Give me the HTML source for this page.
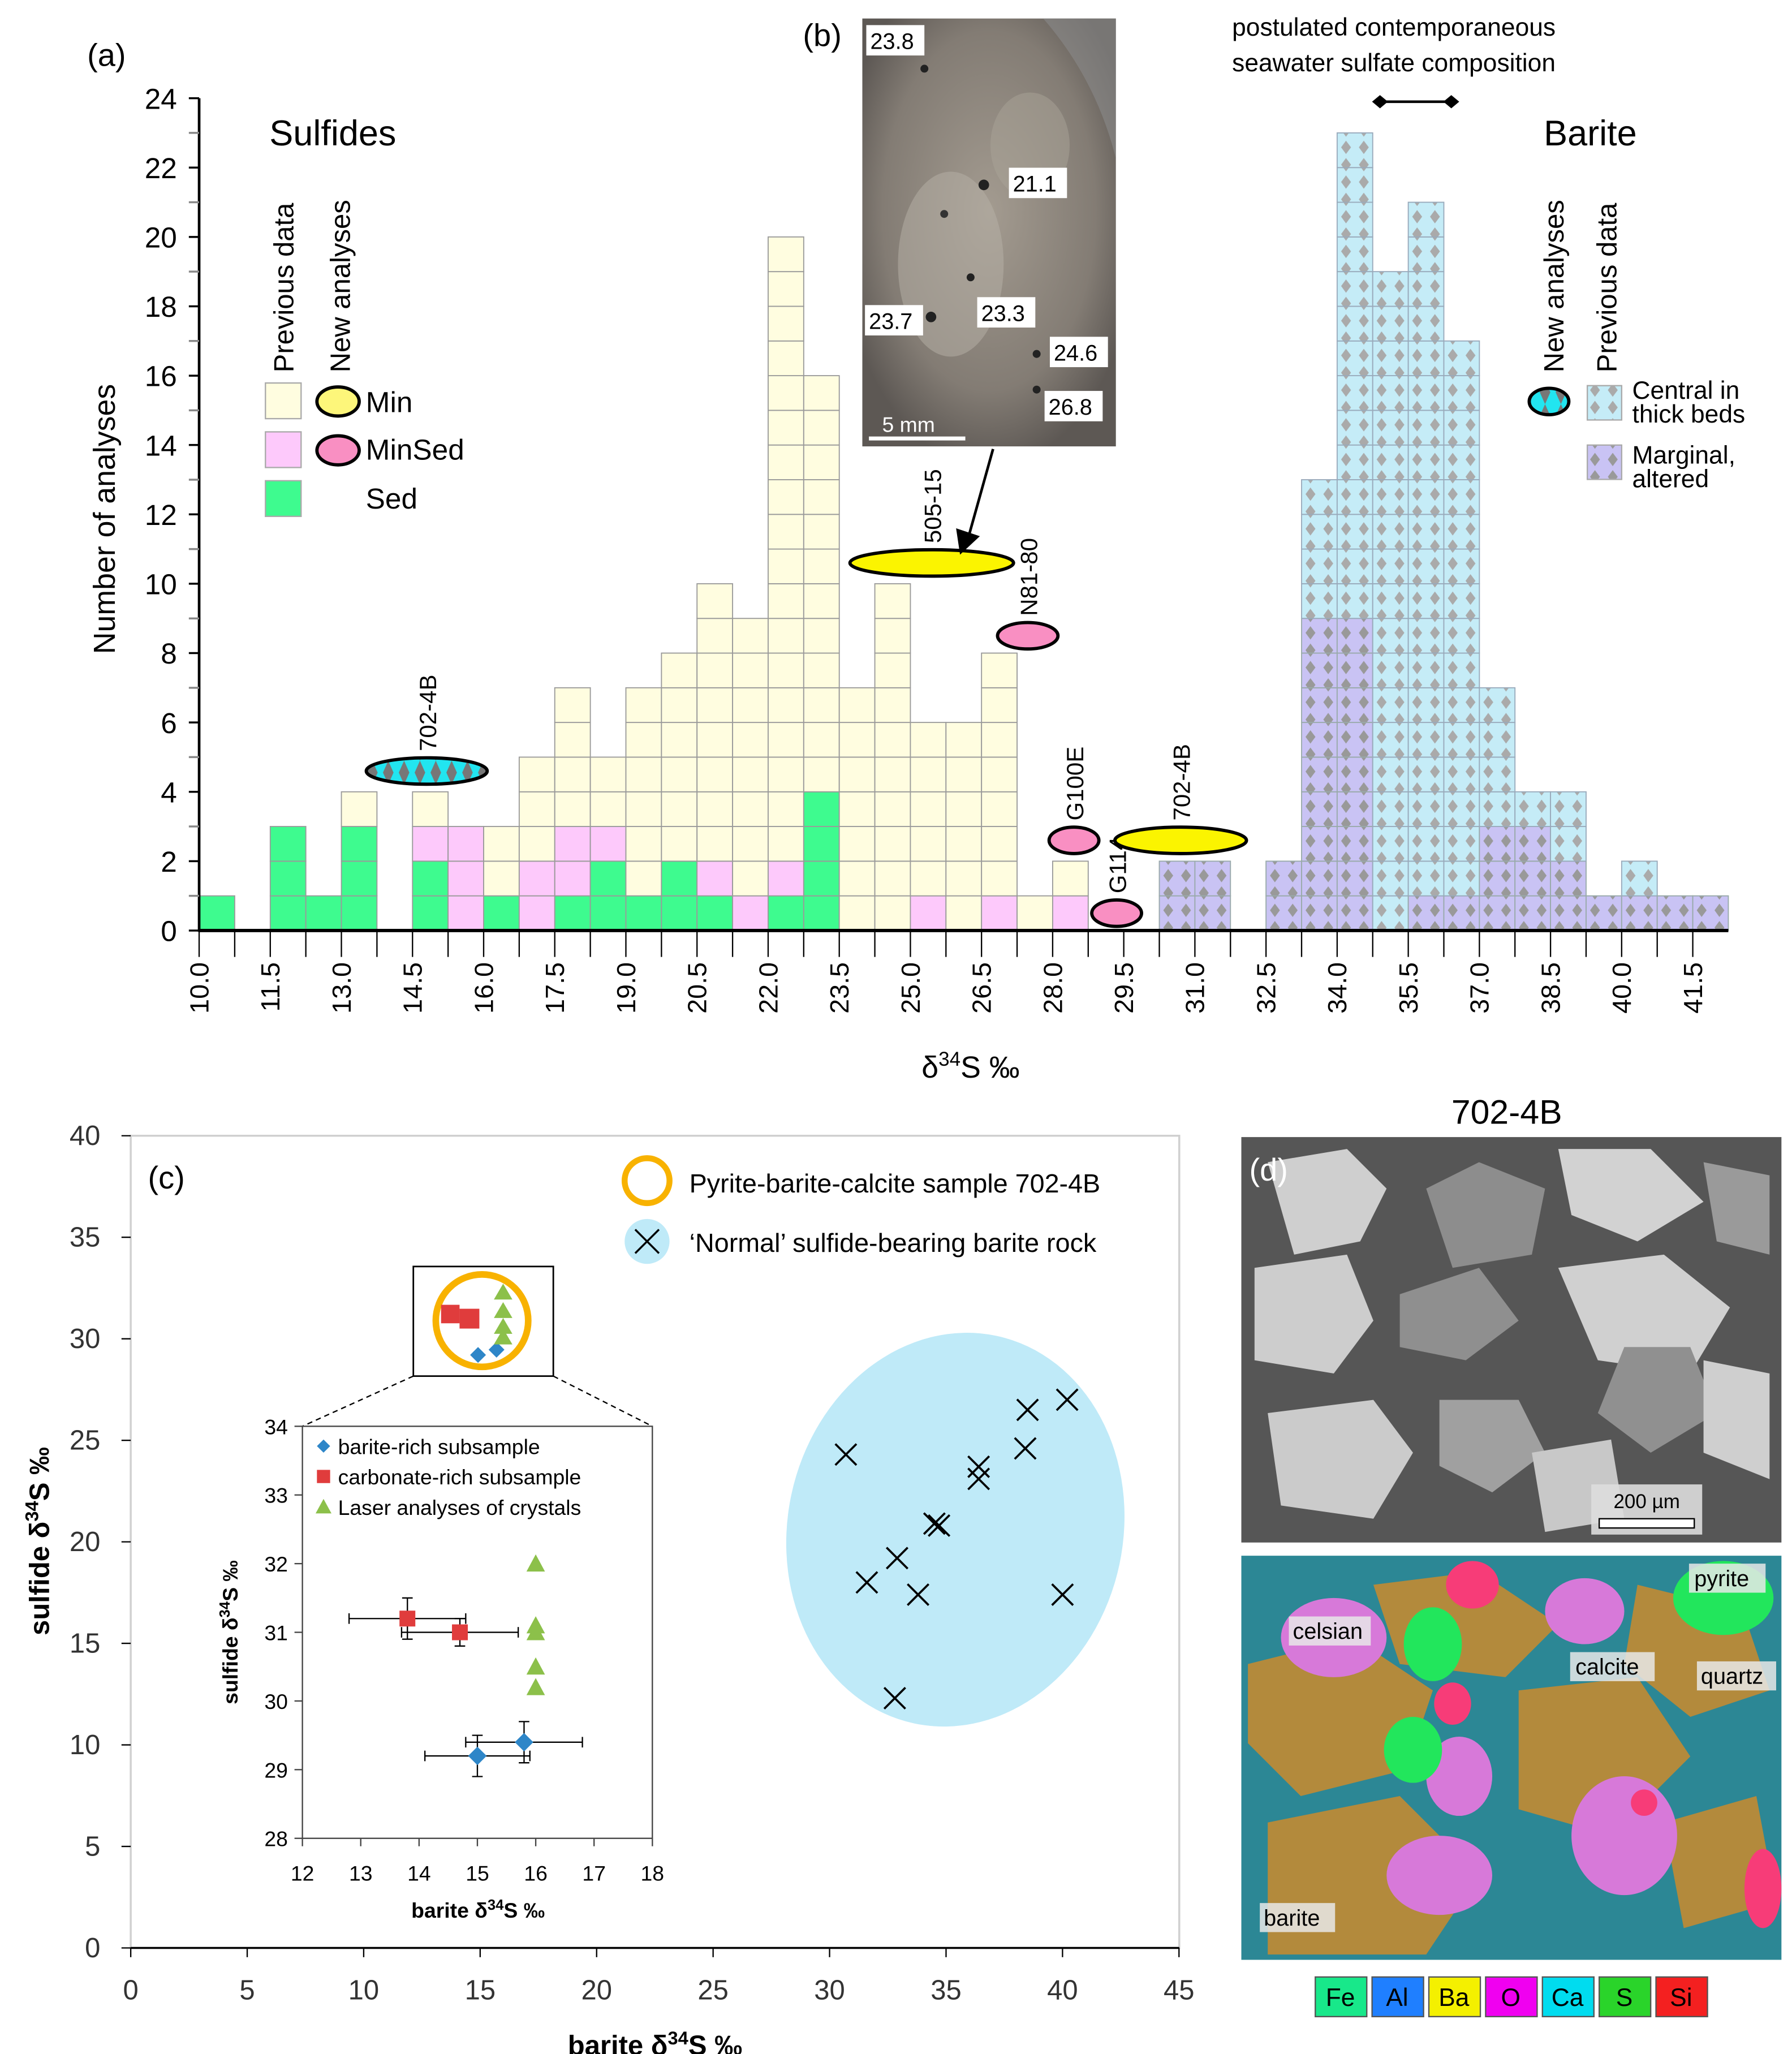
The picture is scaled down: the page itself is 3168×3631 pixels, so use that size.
<!DOCTYPE html>
<html><head><meta charset="utf-8"><style>
html,body{margin:0;padding:0;background:#fff}
svg{display:block;font-family:"Liberation Sans",sans-serif}
</style></head><body>
<svg id="fig" width="3168" height="3631" viewBox="0 0 1357 1555.3" xmlns="http://www.w3.org/2000/svg">
<defs>
<pattern id="patC" patternUnits="userSpaceOnUse" x="150.8" y="0" width="13.465" height="13.13"><rect width="13.465" height="13.13" fill="#c5ecf7"/><polygon points="6.7,1.5 10.5,6.5 6.7,11.6 3,6.5" fill="#aaa"/></pattern>
<pattern id="patM" patternUnits="userSpaceOnUse" x="150.8" y="0" width="13.465" height="13.13"><rect width="13.465" height="13.13" fill="#c9c3f4"/><polygon points="6.7,1.5 10.5,6.5 6.7,11.6 3,6.5" fill="#999"/></pattern>
<pattern id="patN" patternUnits="userSpaceOnUse" width="12" height="18"><rect width="12" height="18" fill="#22e5f0"/><polygon points="6,0 10,9 6,18 2,9" fill="#777"/></pattern>
<radialGradient id="photoG" cx="0.5" cy="0.45" r="0.6"><stop offset="0" stop-color="#a39b90"/><stop offset="0.7" stop-color="#837c74"/><stop offset="1" stop-color="#5d5854"/></radialGradient>
</defs>

<text x="66" y="50" font-size="24">(a)</text>
<text x="608" y="35" font-size="24">(b)</text>
<text x="204" y="110" font-size="27">Sulfides</text>
<text x="1169" y="110" font-size="27">Barite</text>
<text transform="translate(87,393) rotate(-90)" text-anchor="middle" font-size="23">Number of analyses</text>
<text x="735" y="816" text-anchor="middle" font-size="23">δ<tspan font-size="15" dy="-9">34</tspan><tspan dy="9">S ‰</tspan></text>
<text x="933" y="27" font-size="19">postulated contemporaneous</text>
<text x="933" y="54" font-size="19">seawater sulfate composition</text>
<g>
<line x1="1045" y1="77" x2="1099" y2="77" stroke="#000" stroke-width="2"/>
<polygon points="1039,77 1045,72 1051,77 1045,82" fill="#000"/><polygon points="1093,77 1099,72 1105,77 1099,82" fill="#000"/>
</g>
<text transform="translate(222,282) rotate(-90)" font-size="21">Previous data</text>
<text transform="translate(265,282) rotate(-90)" font-size="21">New analyses</text>
<rect x="201" y="290" width="27" height="27" fill="#fffde0" stroke="#aaa"/>
<rect x="201" y="327" width="27" height="27" fill="#fdc9fb" stroke="#aaa"/>
<rect x="201" y="364" width="27" height="27" fill="#3efb8f" stroke="#aaa"/>
<ellipse cx="256" cy="304" rx="16" ry="11" fill="#fdf67a" stroke="#000" stroke-width="2.5"/>
<ellipse cx="256" cy="341" rx="16" ry="11" fill="#f98fc2" stroke="#000" stroke-width="2.5"/>
<text x="277" y="312" font-size="22">Min</text>
<text x="277" y="348" font-size="22">MinSed</text>
<text x="277" y="385" font-size="22">Sed</text>
<text transform="translate(1184,282) rotate(-90)" font-size="21">New analyses</text>
<text transform="translate(1224,282) rotate(-90)" font-size="21">Previous data</text>
<ellipse cx="1173" cy="304" rx="15" ry="10" fill="url(#patN)" stroke="#000" stroke-width="2.5"/>
<rect x="1202" y="292" width="26" height="26" fill="url(#patC)" stroke="#aaa"/>
<rect x="1202" y="337" width="26" height="26" fill="url(#patM)" stroke="#aaa"/>
<text x="1236" y="302" font-size="19">Central in</text>
<text x="1236" y="320" font-size="19">thick beds</text>
<text x="1236" y="351" font-size="19">Marginal,</text>
<text x="1236" y="369" font-size="19">altered</text>

<g id="hist"></g>
<g id="histAx"></g>
<g id="newMarks"></g>

<g>
<rect x="653" y="14" width="192" height="324" fill="url(#photoG)"/>
<path d="M790,14 L845,14 L845,120 Q830,60 790,14 Z" fill="#8a8a8a" opacity="0.6"/>
<ellipse cx="720" cy="200" rx="40" ry="70" fill="#b8b2a8" opacity="0.5"/>
<ellipse cx="780" cy="110" rx="30" ry="40" fill="#aaa398" opacity="0.5"/>
<circle cx="700" cy="52" r="3" fill="#222"/><circle cx="745" cy="140" r="4" fill="#222"/><circle cx="735" cy="210" r="3" fill="#222"/>
<circle cx="705" cy="240" r="4" fill="#222"/><circle cx="785" cy="268" r="3" fill="#222"/><circle cx="785" cy="295" r="3" fill="#222"/><circle cx="715" cy="162" r="3" fill="#333"/>
<g font-size="17" fill="#000">
<rect x="656" y="19" width="44" height="23" fill="#fff"/><text x="659" y="37">23.8</text>
<rect x="764" y="127" width="44" height="23" fill="#fff"/><text x="767" y="145">21.1</text>
<rect x="740" y="225" width="44" height="23" fill="#fff"/><text x="743" y="243">23.3</text>
<rect x="655" y="231" width="44" height="23" fill="#fff"/><text x="658" y="249">23.7</text>
<rect x="795" y="255" width="44" height="23" fill="#fff"/><text x="798" y="273">24.6</text>
<rect x="791" y="296" width="44" height="23" fill="#fff"/><text x="794" y="314">26.8</text>
</g>
<text x="668" y="327" font-size="16" fill="#fff">5 mm</text>
<line x1="658" y1="332" x2="731" y2="332" stroke="#fff" stroke-width="3"/>
</g>
<g>
<line x1="752" y1="340" x2="733" y2="408" stroke="#000" stroke-width="2"/>
<polygon points="727,420 724,400 742,406" fill="#000"/>
</g>

<text x="112" y="900" font-size="24">(c)</text>
<rect x="99" y="860" width="794" height="615" fill="none" stroke="#d0d0d0" stroke-width="1.5"/>
<g id="scatC"></g>
<text x="496" y="1556" text-anchor="middle" font-size="21" font-weight="bold">barite δ<tspan font-size="14" dy="-8">34</tspan><tspan dy="8">S ‰</tspan></text>
<text transform="translate(37,1167) rotate(-90)" text-anchor="middle" font-size="21" font-weight="bold">sulfide δ<tspan font-size="14" dy="-8">34</tspan><tspan dy="8">S ‰</tspan></text>
<circle cx="490" cy="894" r="17" fill="none" stroke="#f8b200" stroke-width="4.5"/>
<text x="522" y="903" font-size="20">Pyrite-barite-calcite sample 702-4B</text>
<circle cx="490" cy="940" r="17" fill="#bfeaf8"/>
<path d="M481,931 L499,949 M499,931 L481,949" stroke="#000" stroke-width="1.5"/>
<text x="522" y="948" font-size="20">‘Normal’ sulfide-bearing barite rock</text>
<g>
<rect x="313" y="959" width="106" height="83" fill="#fff" stroke="#000" stroke-width="1.2"/>
<circle cx="365" cy="1000" r="35" fill="none" stroke="#f8b200" stroke-width="5"/>
<rect x="334" y="988" width="14" height="14" fill="#e03c3c"/><rect x="348" y="991" width="15" height="15" fill="#e03c3c"/>
<polygon points="362,1020 368,1026 362,1032 356,1026" fill="#2e86c8"/><polygon points="376,1016 382,1022 376,1028 370,1022" fill="#2e86c8"/>
<polygon points="381,972 388,984 374,984" fill="#8cc04a"/><polygon points="381,986 388,998 374,998" fill="#8cc04a"/><polygon points="381,998 388,1010 374,1010" fill="#8cc04a"/><polygon points="381,1006 388,1018 374,1018" fill="#8cc04a"/>
<line x1="313" y1="1042" x2="229" y2="1080" stroke="#000" stroke-dasharray="4,3"/>
<line x1="419" y1="1042" x2="494" y2="1080" stroke="#000" stroke-dasharray="4,3"/>
</g>
<rect x="229" y="1080" width="265" height="312" fill="#fff" stroke="#444" stroke-width="1"/>
<g id="inset"></g>
<g font-size="16">
<polygon points="245,1090 250,1095 245,1100 240,1095" fill="#2e86c8"/><text x="256" y="1101">barite-rich subsample</text>
<rect x="240" y="1113" width="10" height="10" fill="#e03c3c"/><text x="256" y="1124">carbonate-rich subsample</text>
<polygon points="245,1135 251,1146 239,1146" fill="#8cc04a"/><text x="256" y="1147">Laser analyses of crystals</text>
</g>
<text x="362" y="1452" text-anchor="middle" font-size="16" font-weight="bold">barite δ<tspan font-size="11" dy="-6">34</tspan><tspan dy="6">S ‰</tspan></text>
<text transform="translate(180,1236) rotate(-90)" text-anchor="middle" font-size="16" font-weight="bold">sulfide δ<tspan font-size="11" dy="-6">34</tspan><tspan dy="6">S ‰</tspan></text>

<text x="1141" y="851" text-anchor="middle" font-size="26">702-4B</text>
<g>
<rect x="940" y="861" width="409" height="307" fill="#565656"/>
<path d="M960,880 l60,-10 l30,30 l-20,40 l-50,10 z" fill="#cfcfcf"/>
<path d="M1080,900 l40,-20 l50,20 l-10,50 l-60,10 z" fill="#8d8d8d"/>
<path d="M1180,870 l70,0 l40,40 l-50,30 l-50,-20 z" fill="#d2d2d2"/>
<path d="M1290,880 l50,10 l0,60 l-40,-10 z" fill="#9a9a9a"/>
<path d="M950,960 l70,-10 l20,50 l-30,40 l-60,-10 z" fill="#cdcdcd"/>
<path d="M1060,980 l60,-20 l30,40 l-40,30 l-50,-10 z" fill="#8f8f8f"/>
<path d="M1180,960 l80,-10 l50,40 l-30,50 l-70,-10 z" fill="#d0d0d0"/>
<path d="M1230,1020 l50,0 l20,50 l-50,30 l-40,-30 z" fill="#909090"/>
<path d="M960,1070 l80,-10 l30,40 l-30,50 l-70,-10 z" fill="#cbcbcb"/>
<path d="M1090,1060 l60,0 l20,40 l-40,30 l-40,-20 z" fill="#a0a0a0"/>
<path d="M1160,1100 l60,-10 l10,60 l-60,10 z" fill="#c8c8c8"/>
<path d="M1290,1030 l50,10 l0,80 l-50,-20 z" fill="#cfcfcf"/>
<rect x="1205" y="1124" width="84" height="38" fill="#ddd" opacity="0.9"/>
<text x="1247" y="1142" text-anchor="middle" font-size="15">200 µm</text>
<rect x="1211" y="1150" width="72" height="7" fill="#fff" stroke="#000"/>
<text x="946" y="894" font-size="24" fill="#fff">(d)</text>
</g>
<g>
<rect x="940" y="1178" width="409" height="306" fill="#2c8795"/>
<path d="M945,1260 l80,-20 l60,40 l-20,60 l-80,20 l-40,-40 z" fill="#b38a3c"/>
<path d="M1040,1200 l80,-10 l60,40 l-40,40 l-80,-10 z" fill="#b38a3c"/>
<path d="M1150,1280 l90,-10 l40,60 l-60,60 l-70,-20 z" fill="#b38a3c"/>
<path d="M960,1380 l100,-20 l60,60 l-40,60 l-120,0 z" fill="#b38a3c"/>
<path d="M1240,1200 l80,20 l20,60 l-60,20 l-50,-40 z" fill="#b38a3c"/>
<path d="M1260,1380 l70,-20 l15,80 l-70,20 z" fill="#b38a3c"/>
<ellipse cx="1010" cy="1240" rx="40" ry="30" fill="#d779d9"/>
<ellipse cx="1230" cy="1390" rx="40" ry="45" fill="#d779d9"/>
<ellipse cx="1105" cy="1345" rx="25" ry="30" fill="#d779d9"/>
<ellipse cx="1090" cy="1420" rx="40" ry="30" fill="#d779d9"/>
<ellipse cx="1200" cy="1220" rx="30" ry="25" fill="#d779d9"/>
<ellipse cx="1085" cy="1245" rx="22" ry="28" fill="#22e65c"/>
<ellipse cx="1070" cy="1325" rx="22" ry="25" fill="#22e65c"/>
<ellipse cx="1305" cy="1210" rx="38" ry="28" fill="#22e65c"/>
<ellipse cx="1115" cy="1200" rx="20" ry="18" fill="#f73c78"/>
<ellipse cx="1100" cy="1290" rx="14" ry="16" fill="#f73c78"/>
<ellipse cx="1335" cy="1430" rx="14" ry="30" fill="#f73c78"/>
<ellipse cx="1245" cy="1365" rx="10" ry="10" fill="#f73c78"/>
<g font-size="17">
<rect x="976" y="1224" width="62" height="22" fill="#e8e8e8" opacity="0.85"/><text x="979" y="1241">celsian</text>
<rect x="1189" y="1251" width="64" height="22" fill="#e8e8e8" opacity="0.85"/><text x="1193" y="1268">calcite</text>
<rect x="1279" y="1184" width="58" height="22" fill="#e8e8e8" opacity="0.85"/><text x="1283" y="1201">pyrite</text>
<rect x="1285" y="1258" width="60" height="22" fill="#e8e8e8" opacity="0.85"/><text x="1288" y="1275">quartz</text>
<rect x="954" y="1441" width="57" height="22" fill="#e8e8e8" opacity="0.85"/><text x="957" y="1458">barite</text>
</g>
</g>
<g font-size="19" text-anchor="middle">
<rect x="996" y="1497" width="39" height="30" fill="#18e88a" stroke="#555"/><text x="1015" y="1519">Fe</text>
<rect x="1039" y="1497" width="39" height="30" fill="#1f7fff" stroke="#555"/><text x="1058" y="1519">Al</text>
<rect x="1082" y="1497" width="39" height="30" fill="#f4f000" stroke="#555"/><text x="1101" y="1519">Ba</text>
<rect x="1125" y="1497" width="39" height="30" fill="#f000f0" stroke="#555"/><text x="1144" y="1519">O</text>
<rect x="1168" y="1497" width="39" height="30" fill="#00dcef" stroke="#555"/><text x="1187" y="1519">Ca</text>
<rect x="1211" y="1497" width="39" height="30" fill="#2ad42a" stroke="#555"/><text x="1230" y="1519">S</text>
<rect x="1254" y="1497" width="39" height="30" fill="#f42020" stroke="#555"/><text x="1273" y="1519">Si</text>
</g>
</svg>
<script>
const binLabels = ["10.0","11.5","13.0","14.5","16.0","17.5","19.0","20.5","22.0","23.5","25.0","26.5","28.0","29.5","31.0","32.5","34.0","35.5","37.0","38.5","40.0","41.5"];
const sedCounts    = [1,0,3,1,3,0,2,0,1,0,1,2,1,2,1,0,1,4,0,0,0,0,0,0,0];
const minSedCounts = [0,0,0,0,0,0,1,3,0,2,2,1,0,0,1,1,1,0,0,0,1,0,1,0,1];
const minCounts    = [0,0,0,0,1,0,1,0,2,3,4,2,6,6,8,8,18,12,7,10,5,6,7,1,1];
const bariteMarginal = [0,0,0,0,0,0,0,0,0,0,0,0,0,0,0,0,0,0,0,0,0,0,0,0,0,0,0,2,2,0,2,9,9,0,1,1,3,3,2,1,1,1,1];
const bariteCentral  = [0,0,0,0,0,0,0,0,0,0,0,0,0,0,0,0,0,0,0,0,0,0,0,0,0,0,0,0,0,0,0,4,14,19,20,16,4,1,2,0,1,0,0];
const yTicksA = [0,2,4,6,8,10,12,14,16,18,20,22,24];
const NBINS = 43;
const newLabels = ["702-4B","505-15","N81-80","G100E","G114","702-4B"];
const newBinPos = [6.4,20.6,23.3,24.6,25.8,27.6];
const newHeight = [4.6,10.6,8.5,2.6,0.5,2.6];
const newKind = ["barite","min","minsed","minsed","minsed","min"];
const newWidthBins = [3.4,4.6,1.7,1.4,1.4,3.7];

const NS="http://www.w3.org/2000/svg";
function mk(tag, attrs, parent){const e=document.createElementNS(NS,tag);for(const k in attrs)e.setAttribute(k,attrs[k]);parent.appendChild(e);return e;}
const bx = i => 150.8 + i*26.93;
const by = v => 704.6 - v*26.26;
const hist=document.getElementById('hist');
function cells(i,start,n,fill,stroke,name){
  for(let k=0;k<n;k++){
    const r=mk('rect',{x:bx(i),y:by(start+k+1),width:26.93,height:26.26,fill:fill,stroke:stroke,'stroke-width':0.8},hist);
    
    
  }
}
for(let i=0;i<NBINS;i++){
  const s=sedCounts[i]||0, ms=minSedCounts[i]||0, m=minCounts[i]||0;
  cells(i,0,s,'#3efb8f','#9a9a9a','bar-sed');
  cells(i,s,ms,'#fdc9fb','#9a9a9a','bar-minsed');
  cells(i,s+ms,m,'#fffde0','#9a9a9a','bar-min');
  const bm=bariteMarginal[i]||0, bc=bariteCentral[i]||0;
  cells(i,0,bm,'url(#patM)','#9aa','bar-barite-marginal');
  cells(i,bm,bc,'url(#patC)','#9ab','bar-barite-central');
}
const ax=document.getElementById('histAx');
let l=mk('line',{x1:150.8,y1:by(24),x2:150.8,y2:by(0)+1,stroke:'#000','stroke-width':2},ax);


l=mk('line',{x1:150.8,y1:by(0),x2:bx(NBINS),y2:by(0),stroke:'#000','stroke-width':2.5},ax);


for(let v=0;v<=24;v++){ mk('line',{x1:143,y1:by(v),x2:150.8,y2:by(v),stroke:v%2?'#888':'#000','stroke-width':1.5},ax); }
yTicksA.forEach(v=>{
  const t=mk('text',{x:134,y:by(v)+8,'text-anchor':'end','font-size':22},ax);
  
  
  t.textContent=v;
});
for(let i=0;i<=NBINS-1;i++){ mk('line',{x1:bx(i),y1:by(0),x2:bx(i),y2:by(0)+20,stroke:'#000','stroke-width':1},ax); }
binLabels.forEach((lab,k)=>{
  const x=bx(2*k)+7;
  const t=mk('text',{transform:`translate(${x},${by(0)+24}) rotate(-90)`,'text-anchor':'end','font-size':20},ax);
  
  
  t.textContent=lab;
});
const nm=document.getElementById('newMarks');
const kindFill={barite:'url(#patN)',min:'#fbf400',minsed:'#f98fc2'};
newLabels.forEach((lab,k)=>{
  const cx=bx(newBinPos[k]), cy=by(newHeight[k]), rx=newWidthBins[k]*26.93/2;
  const e=mk('ellipse',{cx:cx,cy:cy,rx:rx,ry:10,fill:kindFill[newKind[k]],stroke:'#000','stroke-width':2.5},nm);
  
  
  const t=mk('text',{transform:`translate(${cx+7},${cy-15}) rotate(-90)`,'font-size':18},nm);
  
  
  t.textContent=lab;
});

const normalBarite  = [30.7,31.6,32.9,33.8,32.8,34.5,34.7,36.4,36.4,38.4,38.5,40.2,40.0];
const normalSulfide = [24.3,18.0,19.2,17.4,12.3,20.9,20.8,23.7,23.1,24.6,26.5,27.0,17.4];
const xTicksC = [0,5,10,15,20,25,30,35,40,45];
const yTicksC = [0,5,10,15,20,25,30,35,40];
const cx_ = v => 99 + v*17.64;
const cy_ = v => 1475 - v*15.375;
const sc=document.getElementById('scatC');
const ell=mk('ellipse',{cx:cx_(35.4),cy:cy_(20.6),rx:127,ry:150,fill:'#bfeaf8',transform:`rotate(12 ${cx_(35.4)} ${cy_(20.6)})`},sc);


l=mk('line',{x1:99,y1:1475,x2:893,y2:1475,stroke:'#000','stroke-width':1.5},sc);


xTicksC.forEach(v=>{
  mk('line',{x1:cx_(v),y1:1475,x2:cx_(v),y2:1482,stroke:'#000'},sc);
  const t=mk('text',{x:cx_(v),y:1514,'text-anchor':'middle','font-size':21,fill:'#333'},sc);
  
  
  t.textContent=v;
});
yTicksC.forEach(v=>{
  mk('line',{x1:92,y1:cy_(v),x2:99,y2:cy_(v),stroke:'#000'},sc);
  const t=mk('text',{x:76,y:cy_(v)+7,'text-anchor':'end','font-size':21,fill:'#333'},sc);
  
  
  t.textContent=v;
});
normalBarite.forEach((b,k)=>{
  const x=cx_(b), y=cy_(normalSulfide[k]);
  const p=mk('path',{d:`M${x-8},${y-8} L${x+8},${y+8} M${x+8},${y-8} L${x-8},${y+8}`,stroke:'#000','stroke-width':1.6},sc);
  
  
});

const bariteRichX = [15.0,15.8];
const bariteRichY = [29.2,29.4];
const bariteRichXErr = [0.9,1.0];
const bariteRichYErr = [0.3,0.3];
const carbRichX = [13.8,14.7];
const carbRichY = [31.2,31.0];
const carbRichXErr = [1.0,1.0];
const carbRichYErr = [0.3,0.2];
const laserX = [16.0,16.0,16.0,16.0,16.0];
const laserY = [32.0,31.1,31.0,30.5,30.2];
const insetXTicks = [12,13,14,15,16,17,18];
const insetYTicks = [28,29,30,31,32,33,34];
const ix = v => 229 + (v-12)*44.17;
const iy = v => 1392 - (v-28)*52;
const ins=document.getElementById('inset');
insetXTicks.forEach(v=>{
  mk('line',{x1:ix(v),y1:1392,x2:ix(v),y2:1398,stroke:'#444'},ins);
  const t=mk('text',{x:ix(v),y:1424,'text-anchor':'middle','font-size':16},ins);
  
  
  t.textContent=v;
});
insetYTicks.forEach(v=>{
  mk('line',{x1:223,y1:iy(v),x2:229,y2:iy(v),stroke:'#444'},ins);
  const t=mk('text',{x:218,y:iy(v)+6,'text-anchor':'end','font-size':16},ins);
  
  
  t.textContent=v;
});
function errbars(x,y,ex,ey){
  mk('line',{x1:ix(x-ex),y1:iy(y),x2:ix(x+ex),y2:iy(y),stroke:'#000'},ins);
  mk('line',{x1:ix(x-ex),y1:iy(y)-4,x2:ix(x-ex),y2:iy(y)+4,stroke:'#000'},ins);
  mk('line',{x1:ix(x+ex),y1:iy(y)-4,x2:ix(x+ex),y2:iy(y)+4,stroke:'#000'},ins);
  mk('line',{x1:ix(x),y1:iy(y+ey),x2:ix(x),y2:iy(y-ey),stroke:'#000'},ins);
  mk('line',{x1:ix(x)-4,y1:iy(y+ey),x2:ix(x)+4,y2:iy(y+ey),stroke:'#000'},ins);
  mk('line',{x1:ix(x)-4,y1:iy(y-ey),x2:ix(x)+4,y2:iy(y-ey),stroke:'#000'},ins);
}
bariteRichX.forEach((x,k)=>{
  errbars(x,bariteRichY[k],bariteRichXErr[k],bariteRichYErr[k]);
  const px=ix(x), py=iy(bariteRichY[k]);
  const p=mk('polygon',{points:`${px},${py-7} ${px+7},${py} ${px},${py+7} ${px-7},${py}`,fill:'#2e86c8'},ins);
  
  
});
carbRichX.forEach((x,k)=>{
  errbars(x,carbRichY[k],carbRichXErr[k],carbRichYErr[k]);
  const r=mk('rect',{x:ix(x)-6,y:iy(carbRichY[k])-6,width:12,height:12,fill:'#e03c3c'},ins);
  
  
});
laserX.forEach((x,k)=>{
  const px=ix(x), py=iy(laserY[k]);
  const p=mk('polygon',{points:`${px},${py-7} ${px+7},${py+6} ${px-7},${py+6}`,fill:'#8cc04a'},ins);
  
  
});
</script>
</body></html>
